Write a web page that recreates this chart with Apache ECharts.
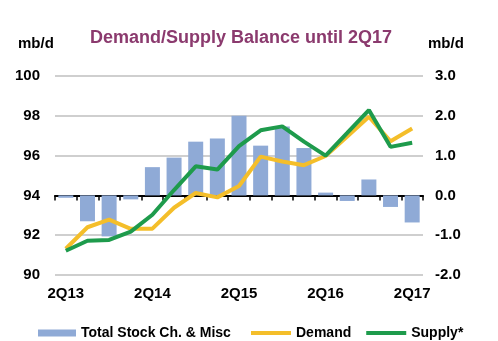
<!DOCTYPE html>
<html>
<head>
<meta charset="utf-8">
<script src="https://cdn.jsdelivr.net/npm/echarts@6/dist/echarts.min.js"></script>
<style>html,body{margin:0;padding:0;background:#fff;}#c{width:498px;height:341px;}</style>
</head>
<body>
<div id="c"></div>
<script>
const categories = ['2Q13','3Q13','4Q13','1Q14','2Q14','3Q14','4Q14','1Q15','2Q15','3Q15','4Q15','1Q16','2Q16','3Q16','4Q16','1Q17','2Q17'];
const stockChange = [-0.06,-0.65,-1.03,-0.1,0.71,0.95,1.35,1.43,2.0,1.25,1.73,1.19,0.07,-0.14,0.4,-0.29,-0.68];
const demand = [91.32,92.4,92.78,92.32,92.33,93.38,94.12,93.9,94.47,95.95,95.7,95.52,95.98,96.96,97.95,96.72,97.36];
const supply = [91.22,91.72,91.76,92.18,93.03,94.27,95.46,95.3,96.48,97.27,97.47,96.7,96.0,97.14,98.29,96.44,96.65];
const leftTicks = [90,100,2];
const rightTicks = [-2,3,1];
const FONT = 'Liberation Sans, Arial, sans-serif';

const chart = echarts.init(document.getElementById('c'), null, {renderer:'canvas'});
chart.setOption({
  animation:false,
  backgroundColor:'#fff',
  title:{
    text:'Demand/Supply Balance until 2Q17',
    left:85, top:24,
    textStyle:{color:'#8B3A6E', fontSize:18, fontWeight:'bold', fontFamily:FONT}
  },
  graphic:[
    {type:'text', left:18, top:36, style:{text:'mb/d', fill:'#000', font:'bold 15px '+FONT}},
    {type:'text', left:428, top:36, style:{text:'mb/d', fill:'#000', font:'bold 15px '+FONT}}
  ],
  grid:{left:55, right:75, top:76, bottom:66, containLabel:false},
  legend:[
    {data:[{name:'Total Stock Ch. & Misc', icon:'rect'}], left:33, top:321, itemWidth:38, itemHeight:7, itemGap:20,
     textStyle:{fontSize:14, fontWeight:'bold', fontFamily:FONT, color:'#000'}},
    {data:[{name:'Demand', icon:'rect'},{name:'Supply*', icon:'rect'}], left:246, top:321, itemWidth:40, itemHeight:4, itemGap:15,
     textStyle:{fontSize:14, fontWeight:'bold', fontFamily:FONT, color:'#000'}}
  ],
  xAxis:{
    type:'category', data:categories, boundaryGap:true,
    axisLine:{lineStyle:{color:'#000', width:2}},
    axisTick:{show:true, interval:0, length:5, lineStyle:{color:'#000', width:1.5}},
    axisLabel:{interval:3, margin:11, color:'#000', fontSize:15, fontWeight:'bold', fontFamily:FONT}
  },
  yAxis:[
    {type:'value', min:leftTicks[0], max:leftTicks[1], interval:leftTicks[2], position:'left',
     axisLine:{show:false}, axisTick:{show:false},
     splitLine:{lineStyle:{color:'#BFBFBF', width:1.5}},
     axisLabel:{margin:15, color:'#000', fontSize:15, fontWeight:'bold', fontFamily:FONT}},
    {type:'value', min:rightTicks[0], max:rightTicks[1], interval:rightTicks[2], position:'right',
     axisLine:{show:false}, axisTick:{show:false}, splitLine:{show:false},
     axisLabel:{margin:12, color:'#000', fontSize:15, fontWeight:'bold', fontFamily:FONT, formatter:v=>v.toFixed(1)}}
  ],
  series:[
    {name:'Total Stock Ch. & Misc', type:'bar', yAxisIndex:1, data:stockChange, barWidth:15,
     itemStyle:{color:'#8FAAD6'}},
    {name:'Demand', type:'line', yAxisIndex:0, data:demand, symbol:'none',
     lineStyle:{color:'#F4BE2A', width:4}, itemStyle:{color:'#F4BE2A'}},
    {name:'Supply*', type:'line', yAxisIndex:0, data:supply, symbol:'none',
     lineStyle:{color:'#1E9B4C', width:4}, itemStyle:{color:'#1E9B4C'}}
  ]
});
</script>
</body>
</html>
